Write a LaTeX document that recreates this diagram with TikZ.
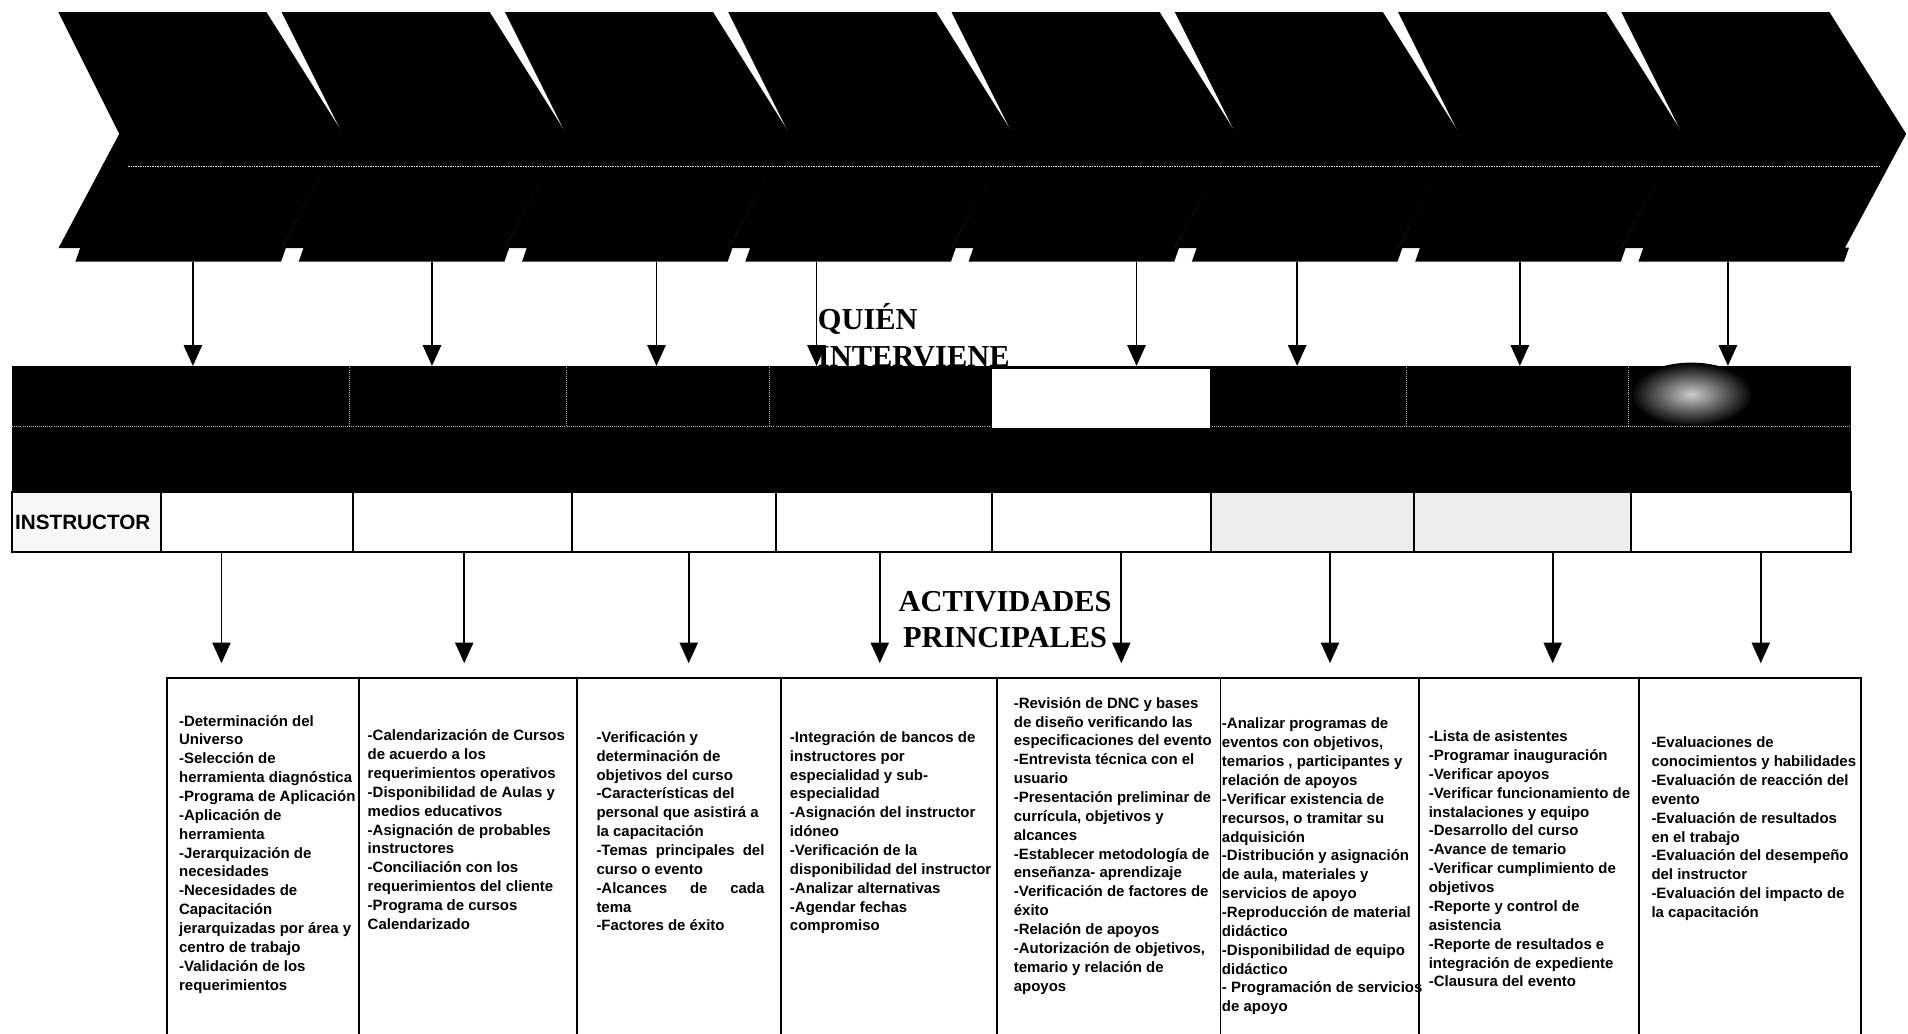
\documentclass[tikz,border=0pt]{standalone}
\usepackage{fontspec}
\setmainfont{Liberation Serif}
\newfontfamily\boxfont{Liberation Sans}
\newfontfamily\labelfont{Liberation Sans}
\newfontfamily\headfont{Liberation Serif}
\usetikzlibrary{arrows.meta}

\tikzset{
  chevbody/.style={fill=black},
  flowarrow/.style={line width=1.4pt, -{Triangle[width=15pt,length=17pt]}},
  actbox/.style={draw=black, line width=1.6pt},
  bandcell/.style={draw=black, line width=1.6pt},
  acttext/.style={anchor=base west, inner sep=0pt,
    font=\boxfont\bfseries\fontsize{12.3}{15.5}\selectfont},
  heading/.style={inner sep=0pt,
    font=\headfont\bfseries\fontsize{25}{29.8}\selectfont},
  faintline/.style={gray!55, line width=0.7pt, densely dotted}
}
\newcommand\actlist[1]{\parbox[t]{200pt}{\raggedright #1}}

\begin{document}
\begin{tikzpicture}[x=1pt,y=-1pt]
\useasboundingbox (0,0) rectangle (1568,849);
\clip (0,0) rectangle (1568,849);

% ---- process chevrons ----
\foreach \i in {0,...,7} {
  \pgfmathsetmacro\xo{48+183.5*\i}
  \fill (\xo+18,203.5) -- (\xo+187,203.5) -- (\xo+183,215) -- (\xo+14,215) -- cycle;
  \fill[chevbody] (\xo,10) -- (\xo+171,10) -- (\xo+234,110) -- (\xo+183.5,204)
     -- (\xo,204) -- (\xo+50,110) -- cycle;
}
\draw[gray!22, line width=0.4pt, densely dotted] (105,137) -- (1545,137);

% ---- "who intervenes" band ----
\fill (10,300.7) rectangle (1521,404);
\shade[inner color=gray!40, outer color=black] (1390,324) ellipse [x radius=50, y radius=26];
\draw[faintline] (10,350.5) -- (1521,350.5);
\foreach \x in {287,465.5,632,1156,1338} \draw[faintline] (\x,302) -- (\x,350);
\draw[fill=white, line width=1.2pt] (815,302.5) rectangle (995,352);

% third row: instructor
\draw[bandcell, fill=gray!6] (10,404) rectangle (132,454);
\draw[bandcell, fill=white] (132,404) rectangle (995,454);
\draw[bandcell, fill=gray!14] (995,404) rectangle (1340,454);
\draw[bandcell, fill=white] (1340,404) rectangle (1521,454);
\foreach \x in {290,470,638,815,1162} \draw[line width=1.6pt] (\x,404) -- (\x,454);
\node[inner sep=0pt, font=\labelfont\bfseries\fontsize{17}{17}\selectfont] (instr) at (68,429) {INSTRUCTOR};

% ---- headings ----
\node[heading, anchor=base west] (quien) at (672,271)
  {\parbox[t]{200pt}{QUIÉN\\INTERVIENE}};
\node[heading, anchor=base] (activ) at (826,502.7)
  {\parbox[t]{220pt}{\centering ACTIVIDADES\\PRINCIPALES}};

% ---- arrows: chevrons to band ----
\foreach \x [count=\k] in {158.5,355,539.5,671,934,1066,1249,1420} {
  \coordinate (ct\k) at (\x,215);
  \coordinate (bt\k) at (\x,300.7);
  \draw[flowarrow] (ct\k) -- (bt\k);
}
% ---- arrows: band to activity boxes ----
\foreach \x [count=\k] in {182,381.5,566,723,921.5,1093,1276,1447} {
  \coordinate (bb\k) at (\x,454);
  \coordinate (at\k) at (\x,545);
  \draw[flowarrow] (bb\k) -- (at\k);
}

% ---- activity boxes ----
\draw[actbox] (137,557) rectangle (1529,900);
\foreach \x in {295,474,642,819,1003,1166,1347} \draw[actbox] (\x,557) -- (\x,900);

\node[acttext] (act1) at (147,596.7) {\actlist{-Determinación del\\Universo\\-Selección de\\herramienta diagnóstica\\-Programa de Aplicación\\-Aplicación de\\herramienta\\-Jerarquización de\\necesidades\\-Necesidades de\\Capacitación\\jerarquizadas por área y\\centro de trabajo\\-Validación de los\\requerimientos}};

\node[acttext] (act2) at (302,608.7) {\actlist{-Calendarización de Cursos\\de acuerdo a los\\requerimientos operativos\\-Disponibilidad de Aulas y\\medios educativos\\-Asignación de probables\\instructores\\-Conciliación con los\\requerimientos del cliente\\-Programa de cursos\\Calendarizado}};

\node[acttext] (act3) at (490,610) {\actlist{-Verificación y\\determinación de\\objetivos del curso\\-Características del\\personal que asistirá a\\la capacitación\\\makebox[138pt][s]{-Temas principales del}\\curso o evento\\\makebox[138pt][s]{-Alcances de cada}\\tema\\-Factores de éxito}};

\node[acttext] (act4) at (649,610) {\actlist{-Integración de bancos de\\instructores por\\especialidad y sub-\\especialidad\\-Asignación del instructor\\idóneo\\-Verificación de la\\disponibilidad del instructor\\-Analizar alternativas\\-Agendar fechas\\compromiso}};

\node[acttext] (act5) at (833,582) {\actlist{-Revisión de DNC y bases\\de diseño verificando las\\especificaciones del evento\\-Entrevista técnica con el\\usuario\\-Presentación preliminar de\\currícula, objetivos y\\alcances\\-Establecer metodología de\\enseñanza- aprendizaje\\-Verificación de factores de\\éxito\\-Relación de apoyos\\-Autorización de objetivos,\\temario y relación de\\apoyos}};

\node[acttext] (act6) at (1004,599) {\actlist{-Analizar programas de\\eventos con objetivos,\\temarios , participantes y\\relación de apoyos\\-Verificar existencia de\\recursos, o tramitar su\\adquisición\\-Distribución y asignación\\de aula, materiales y\\servicios de apoyo\\-Reproducción de material\\didáctico\\-Disponibilidad de equipo\\didáctico\\- Programación de servicios\\de apoyo}};

\node[acttext] (act7) at (1174,609.5) {\actlist{-Lista de asistentes\\-Programar inauguración\\-Verificar apoyos\\-Verificar funcionamiento de\\instalaciones y equipo\\-Desarrollo del curso\\-Avance de temario\\-Verificar cumplimiento de\\objetivos\\-Reporte y control de\\asistencia\\-Reporte de resultados e\\integración de expediente\\-Clausura del evento}};

\node[acttext] (act8) at (1357,614.5) {\actlist{-Evaluaciones de\\conocimientos y habilidades\\-Evaluación de reacción del\\evento\\-Evaluación de resultados\\en el trabajo\\-Evaluación del desempeño\\del instructor\\-Evaluación del impacto de\\la capacitación}};
\end{tikzpicture}
\end{document}
